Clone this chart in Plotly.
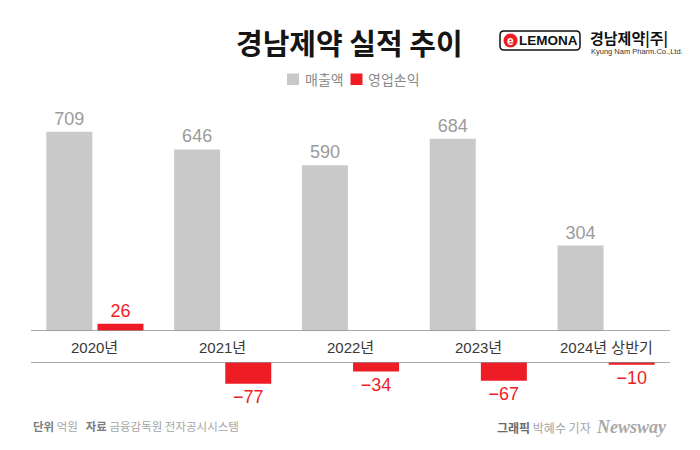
import plotly.graph_objects as go

# ---- data ----
categories = ["2020년", "2021년", "2022년", "2023년", "2024년 상반기"]
revenue = [709, 646, 590, 684, 304]          # 매출액 (억원)
op_profit = [26, -77, -34, -67, -10]         # 영업손익 (억원)
series_names = ["매출액", "영업손익"]

# ---- layout helpers (page coordinates; page body has an 8px margin) ----
OFF = 8
W, H = 700 - OFF, 450 - OFF
PL, PR, PT, PB = 31, 670, 100, 400          # plot area in page pixels
PW, PH = PR - PL, PB - PT


def px(x):
    return (x - PL) / PW


def py(y):
    return (PB - y) / PH


SCALE = 0.281          # pixels per 억원
TOP_BASE = 331         # baseline of the upper panel (page px)
BOT_BASE = 362         # zero line of the lower panel (page px)

GRAY = "#c9c9c9"
RED = "#ee1d25"
NUM_FONT = "Liberation Sans Narrow, Liberation Sans, Noto Sans CJK KR"
KR_FONT = "Noto Sans CJK KR"


def fmt(v):
    return str(v).replace("-", "−")


pos_profit = [v if v >= 0 else None for v in op_profit]
neg_profit = [v if v < 0 else None for v in op_profit]

fig = go.Figure()
fig.add_trace(go.Bar(
    name=series_names[0], x=categories, y=revenue, xaxis="x", yaxis="y",
    offset=-0.38, width=0.36, marker=dict(color=GRAY, line=dict(width=0)),
    text=[fmt(v) for v in revenue], textposition="outside", constraintext="none",
    textfont=dict(color="#9b9b9b", size=18, family=NUM_FONT), cliponaxis=False,
    hoverinfo="skip", showlegend=False,
))
fig.add_trace(go.Bar(
    name=series_names[1], x=categories, y=pos_profit, xaxis="x", yaxis="y",
    offset=0.02, width=0.36, marker=dict(color=RED, line=dict(width=0)),
    text=[fmt(v) if v is not None else "" for v in pos_profit],
    textposition="outside", constraintext="none",
    textfont=dict(color=RED, size=18, family=NUM_FONT), cliponaxis=False,
    hoverinfo="skip", showlegend=False,
))
fig.add_trace(go.Bar(
    name=series_names[1], x=categories, y=neg_profit, xaxis="x2", yaxis="y2",
    offset=0.02, width=0.36, marker=dict(color=RED, line=dict(width=0)),
    text=[fmt(v) if v is not None else "" for v in neg_profit],
    textposition="outside", constraintext="none",
    textfont=dict(color=RED, size=18, family=NUM_FONT), cliponaxis=False,
    showlegend=False, hoverinfo="skip",
))

axis_off = dict(showgrid=False, zeroline=False, showline=False,
                showticklabels=False, ticks="")

fig.update_layout(
    width=W, height=H,
    margin=dict(l=PL - OFF, r=W - (PR - OFF), t=PT - OFF, b=H - (PB - OFF), pad=0),
    paper_bgcolor="white", plot_bgcolor="rgba(0,0,0,0)",
    barmode="overlay",
    xaxis=dict(anchor="y", range=[-0.5, 4.5], **axis_off),
    xaxis2=dict(anchor="y2", matches="x", range=[-0.5, 4.5], **axis_off),
    yaxis=dict(domain=[py(TOP_BASE), 1], range=[0, (TOP_BASE - PT) / SCALE], **axis_off),
    yaxis2=dict(domain=[0, py(BOT_BASE)], range=[-(PB - BOT_BASE) / SCALE, 0], **axis_off),
    showlegend=False,
    font=dict(family=KR_FONT),
)

shapes = [
    dict(type="line", xref="paper", x0=0, x1=1, yref="y", y0=0, y1=0,
         line=dict(color="#8f8f8f", width=1.5), layer="above"),
    dict(type="line", xref="paper", x0=0, x1=1, yref="y2", y0=0, y1=0,
         line=dict(color="#8f8f8f", width=1.5), layer="above"),
]

# legend swatches
for (sx, col) in [(287, GRAY), (350.5, RED)]:
    shapes.append(dict(type="rect", xref="paper", yref="paper",
                       x0=px(sx), x1=px(sx + 12), y0=py(85), y1=py(73.5),
                       fillcolor=col, line=dict(width=0)))

# logo box with rounded corners
x0, x1, y0, y1, r = 500, 580, 31, 50, 4


def P(x, y):
    return f"{px(x)},{py(y)}"


path = (f"M {P(x0 + r, y0)} L {P(x1 - r, y0)} Q {P(x1, y0)} {P(x1, y0 + r)} "
        f"L {P(x1, y1 - r)} Q {P(x1, y1)} {P(x1 - r, y1)} "
        f"L {P(x0 + r, y1)} Q {P(x0, y1)} {P(x0, y1 - r)} "
        f"L {P(x0, y0 + r)} Q {P(x0, y0)} {P(x0 + r, y0)} Z")
shapes.append(dict(type="path", xref="paper", yref="paper", path=path,
                   line=dict(color="#111", width=1.5), fillcolor="white"))
shapes.append(dict(type="circle", xref="paper", yref="paper",
                   x0=px(503.5), x1=px(517.5), y0=py(47.5), y1=py(33.5),
                   fillcolor=RED, line=dict(width=0)))
fig.update_layout(shapes=shapes)

ann = []
for c in categories:
    ann.append(dict(x=c, xref="x", y=py(347), yref="paper", text=c, showarrow=False,
                    xanchor="center", yanchor="middle",
                    font=dict(size=15, color="#383838", family=NUM_FONT)))

# legend labels
for (tx, name) in [(302.5, series_names[0]), (366, series_names[1])]:
    ann.append(dict(x=px(tx), y=py(79), xref="paper", yref="paper", showarrow=False,
                    text=name, xanchor="left", yanchor="middle",
                    font=dict(size=14, color="#8a8a8a", family=KR_FONT)))

ann.append(dict(x=px(349), y=py(42), xref="paper", yref="paper", showarrow=False,
                text="<b>경남제약 실적 추이</b>", xanchor="center", yanchor="middle",
                font=dict(size=29, color="#151515", family=KR_FONT, weight=900)))

ann.append(dict(x=px(510.5), y=py(40.5), xref="paper", yref="paper", showarrow=False,
                text="<b>e</b>", xanchor="center", yanchor="middle",
                font=dict(size=12, color="white", family="Liberation Sans")))
ann.append(dict(x=px(548), y=py(40.5), xref="paper", yref="paper", showarrow=False,
                text="<b>LEMONA</b>", xanchor="center", yanchor="middle",
                font=dict(size=13.5, color="#111", family="Liberation Sans")))
ann.append(dict(x=px(588), y=py(38.5), xref="paper", yref="paper", showarrow=False,
                text="<b>경남제약|주|</b>", xanchor="left", yanchor="middle",
                font=dict(size=15, color="#111", family=KR_FONT)))
ann.append(dict(x=px(589), y=py(51.5), xref="paper", yref="paper", showarrow=False,
                text="Kyung Nam Pharm.Co.,Ltd.", xanchor="left", yanchor="middle",
                font=dict(size=7.5, color="#333", family="Liberation Sans")))

ann.append(dict(x=px(31), y=py(426), xref="paper", yref="paper", showarrow=False,
                xanchor="left", yanchor="middle",
                text=("<b><span style='color:#7d7d7d'>단위</span></b> 억원&nbsp;&nbsp;&nbsp;"
                      "<b><span style='color:#7d7d7d'>자료</span></b> 금융감독원 전자공시시스템"),
                font=dict(size=11.5, color="#a5a5a5", family=KR_FONT)))
ann.append(dict(x=px(593), y=py(427), xref="paper", yref="paper", showarrow=False,
                xanchor="right", yanchor="middle",
                text="<b><span style='color:#6a6a6a'>그래픽</span></b> 박혜수 기자",
                font=dict(size=12, color="#a5a5a5", family=KR_FONT)))
ann.append(dict(x=px(669), y=py(427), xref="paper", yref="paper", showarrow=False,
                xanchor="right", yanchor="middle",
                text="<b><i>Newsway</i></b>",
                font=dict(size=18, color="#a8a8a8", family="Liberation Serif, DejaVu Serif")))

fig.update_layout(annotations=ann)

fig.write_html("out.html")
